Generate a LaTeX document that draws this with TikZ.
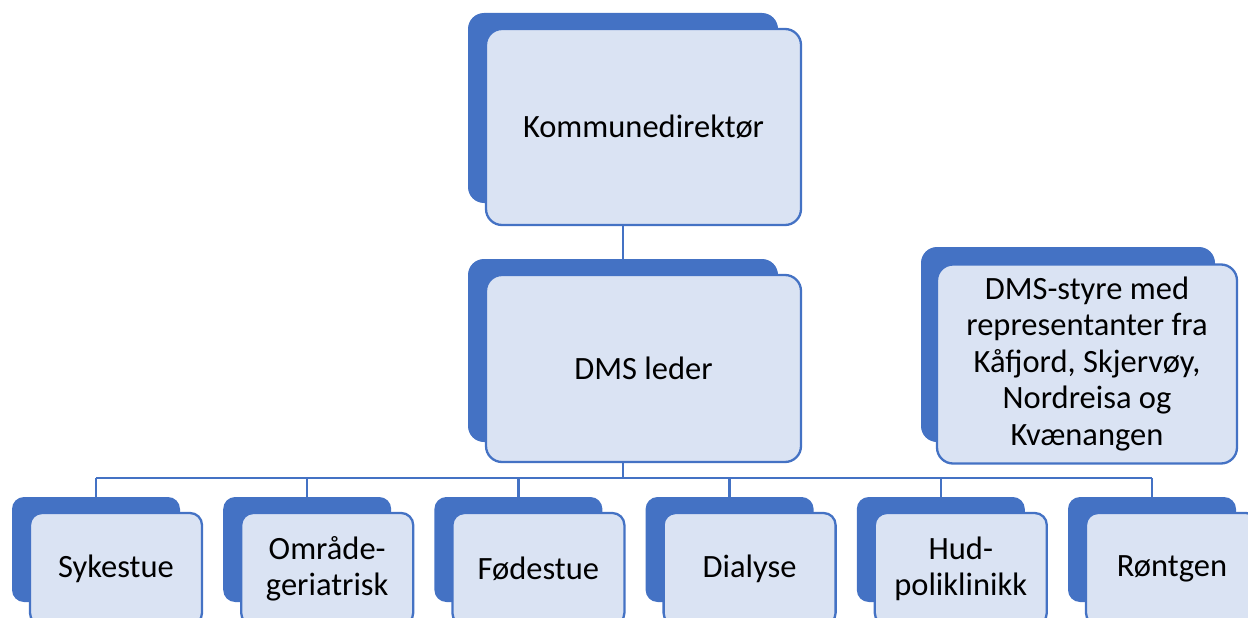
\documentclass[tikz,border=0pt]{standalone}
\usepackage{fontspec}
\setmainfont{Carlito}
\definecolor{darkb}{HTML}{4472C4}
\definecolor{lightb}{HTML}{DAE3F3}
\begin{document}
\begin{tikzpicture}[x=1pt,y=-1pt,
  backbox/.style={rectangle, rounded corners=16pt, fill=darkb, draw=none, inner sep=0pt},
  frontbox/.style={rectangle, rounded corners=16pt, fill=lightb, draw=darkb, line width=2.3pt, inner sep=0pt, align=center, font=\fontsize{32.5}{36.5}\selectfont, text=black},
  smallback/.style={backbox, rounded corners=12pt, minimum width=168pt, minimum height=105pt},
  smallfront/.style={frontbox, rounded corners=12pt, minimum width=172pt, minimum height=112pt},
  conn/.style={draw=darkb, line width=2.3pt}]
\useasboundingbox (0,0) rectangle (1248,618);
% back shapes
\node[backbox, minimum width=310pt, minimum height=190pt] (kdb) at (623,108) {};
\node[backbox, minimum width=310pt, minimum height=183pt] (dmsb) at (623,350.5) {};
\node[backbox, minimum width=294pt, minimum height=195pt] (styb) at (1068,344.5) {};
\node[smallback] (c1b) at (96,549.5) {};
\node[smallback] (c2b) at (307.2,549.5) {};
\node[smallback] (c3b) at (518.4,549.5) {};
\node[smallback] (c4b) at (729.6,549.5) {};
\node[smallback] (c5b) at (940.8,549.5) {};
\node[smallback] (c6b) at (1152,549.5) {};
% connectors
\coordinate (bus) at (0,478);
\draw[conn] (kdb.south) -- (dmsb.north);
\draw[conn] (dmsb.south) -- (dmsb.south |- bus);
\draw[conn] (c1b.north |- bus) -- (c6b.north |- bus);
\foreach \c in {c1b,c2b,c3b,c4b,c5b,c6b}{
  \draw[conn] (\c.north) -- (\c.north |- bus);
}
% front shapes
\node[frontbox, minimum width=315pt, minimum height=196pt] (kd) at (643.5,127) {Kommunedirektør};
\node[frontbox, minimum width=315pt, minimum height=187pt] (dms) at (643.5,368.5) {DMS leder};
\node[frontbox, minimum width=300pt, minimum height=199pt] (sty) at (1087,364) {DMS-styre med\\representanter fra\\Kåfjord, Skjervøy,\\Nordreisa og\\Kvænangen};
\node[smallfront] (c1) at (116,569) {Sykestue};
\node[smallfront] (c2) at (327.2,569) {Område-\\geriatrisk};
\node[smallfront] (c3) at (538.4,569) {Fødestue};
\node[smallfront] (c4) at (749.6,569) {Dialyse};
\node[smallfront] (c5) at (960.8,569) {Hud-\\poliklinikk};
\node[smallfront] (c6) at (1172,569) {Røntgen};
\end{tikzpicture}
\end{document}
